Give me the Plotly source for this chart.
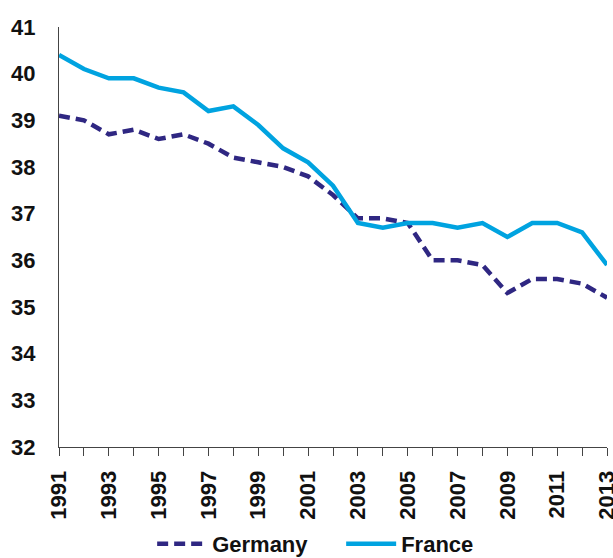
import plotly.graph_objects as go

years = list(range(1991, 2014))
germany = [39.1, 39.0, 38.7, 38.8, 38.6, 38.7, 38.5, 38.2, 38.1, 38.0, 37.8, 37.4,
           36.9, 36.9, 36.8, 36.0, 36.0, 35.9, 35.3, 35.6, 35.6, 35.5, 35.2]
france = [40.4, 40.1, 39.9, 39.9, 39.7, 39.6, 39.2, 39.3, 38.9, 38.4, 38.1, 37.6,
          36.8, 36.7, 36.8, 36.8, 36.7, 36.8, 36.5, 36.8, 36.8, 36.6, 35.9]

font = dict(family="Liberation Sans, Arial, sans-serif", size=22, color="#111111")
axis_col = "#444444"

fig = go.Figure()
fig.add_trace(go.Scatter(x=years, y=germany, name="<b>Germany</b>", mode="lines",
                         line=dict(color="#2f2782", width=4.5, dash="11px,6px")))
fig.add_trace(go.Scatter(x=years, y=france, name="<b>France</b>", mode="lines",
                         line=dict(color="#00a3e0", width=4.5)))

fig.update_layout(
    width=613, height=558,
    margin=dict(l=59, r=6, t=27, b=111),
    plot_bgcolor="white", paper_bgcolor="white",
    font=font,
    showlegend=True,
    legend=dict(orientation="h", x=0.17, xanchor="left", yref="container",
                y=0.025, yanchor="middle", font=dict(size=22),
                itemwidth=50, entrywidth=124, entrywidthmode="pixels"),
    xaxis=dict(range=[1991, 2013], dtick=2, tick0=1991, tickangle=-90,
               showgrid=False, zeroline=False, showline=True, linecolor=axis_col, linewidth=1,
               ticks="outside", ticklen=8, tickcolor=axis_col, ticklabelstandoff=6,
               ticklabeloverflow="allow",
               minor=dict(dtick=1, ticks="outside", ticklen=8, tickcolor=axis_col),
               tickprefix="<b>", ticksuffix="</b>", automargin=False),
    xaxis2=dict(range=[1991, 2013], overlaying="x", anchor="y", side="bottom",
                dtick=1, tick0=1991, ticks="inside", ticklen=7, tickcolor=axis_col,
                showticklabels=False, showgrid=False, zeroline=False, showline=False),
    yaxis=dict(range=[32, 41], dtick=1, showgrid=False, zeroline=False,
               showline=True, linecolor=axis_col, linewidth=1, ticks="",
               ticklabelstandoff=18, tickprefix="<b>", ticksuffix="</b>", automargin=False),
)

fig.write_html("out.html", config={"displayModeBar": False},
               post_script="document.body.style.margin='0';")
